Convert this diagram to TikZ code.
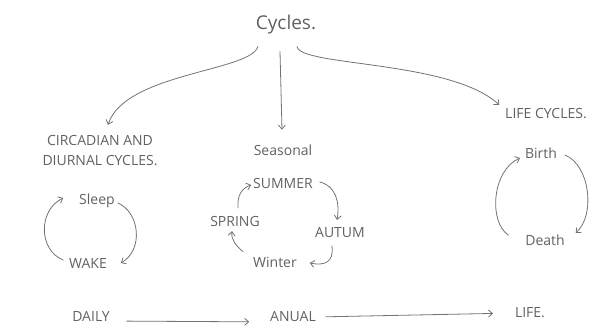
\documentclass[tikz,border=0pt]{standalone}
\usepackage{fontspec}
\setmainfont{Open Sans}
\usetikzlibrary{arrows.meta}
\begin{document}
\begin{tikzpicture}[x=1pt, y=-1pt]
\tikzset{ >={Straight Barb[length=4pt,width=7pt]}, inner sep=0pt, outer sep=0pt,
  word/.style={text=black!62, font=\fontsize{14}{20}\selectfont},
  pencil/.style={draw=black!55, line width=0.8pt, line cap=round, line join=round},
}
\useasboundingbox (0,0) rectangle (590,329);

\node [word, font=\fontsize{19}{22}\selectfont] (C) at (286,25) {Cycles.};

\node [word, align=center] (CD) at (100,151) {CIRCADIAN AND\\DIURNAL CYCLES.};
\node [word] (S) at (283,150) {Seasonal};
\node [word] (L) at (546,114) {LIFE CYCLES.};

\draw [pencil, ->] ([shift={(2,12)}]C.south west) .. controls +(-7,25) and +(17,-52) .. ([shift={(8,-11)}]CD.north);
\draw [pencil, ->] ([shift={(-6,17)}]C.south) -- ([shift={(-1,-15)}]S.north);
\draw [pencil, ->] ([shift={(-19,12)}]C.south east) .. controls +(2,20) and +(-48,-45) .. ([shift={(-6,-9)}]L.west);

% daily
\node [word] (SL) at (97,201) {Sleep};
\node [word] (WK) at (88,263) {WAKE};

\draw [pencil, ->] ([shift={(3,2)}]SL.east) .. controls +(22,9) and +(23,-13) .. ([shift={(14,0)}]WK.east);
\draw [pencil, ->] ([shift={(-6,-3)}]WK.west) .. controls +(-25,-10) and +(-25,12) .. ([shift={(-16,-3)}]SL.west);

% seasons
\node [word] (SU) at (283,183) {SUMMER};
\node [word] (SP) at (235,221) {SPRING};
\node [word] (AU) at (340,233) {AUTUM};
\node [word] (WI) at (275,262) {Winter};

\draw [pencil, ->] ([shift={(3,-8)}]SP.north) .. controls +(-1,-13) and +(-9,3) .. ([shift={(-2,2)}]SU.west);
\draw [pencil, ->] ([shift={(7,-1)}]SU.east) .. controls +(16,4) and +(3,-18) .. ([shift={(-3,-8)}]AU.north);
\draw [pencil, ->] ([shift={(-8,8)}]AU.south) .. controls +(2,16) and +(15,3) .. ([shift={(13,1)}]WI.east);
\draw [pencil, ->] ([shift={(-10,-5)}]WI.north west) .. controls +(-7,-6) and +(-1,9) .. ([shift={(-3,5)}]SP.south);

% life
\node [word] (BI) at (541,153) {Birth};
\node [word] (DE) at (545,240) {Death};

\draw [pencil, ->] ([shift={(8,2)}]BI.east) .. controls +(25,10) and +(20,-18) .. ([shift={(11,-7)}]DE.east);
\draw [pencil, ->] ([shift={(-17,-5)}]DE.west) .. controls +(-20,-13) and +(-28,12) .. ([shift={(-5,5)}]BI.west);

% time scale
\node [word] (DA) at (91,316) {DAILY};
\node [word] (AN) at (293,317) {ANUAL};
\node [word] (LI) at (530,313) {LIFE.};

\draw [pencil, ->, shorten <=17pt, shorten >=21pt] (DA.base east) -- (AN.base west);
\draw [pencil, ->, shorten <=10pt, shorten >=22pt] (AN.east) -- (LI.west);

\end{tikzpicture}
\end{document}
